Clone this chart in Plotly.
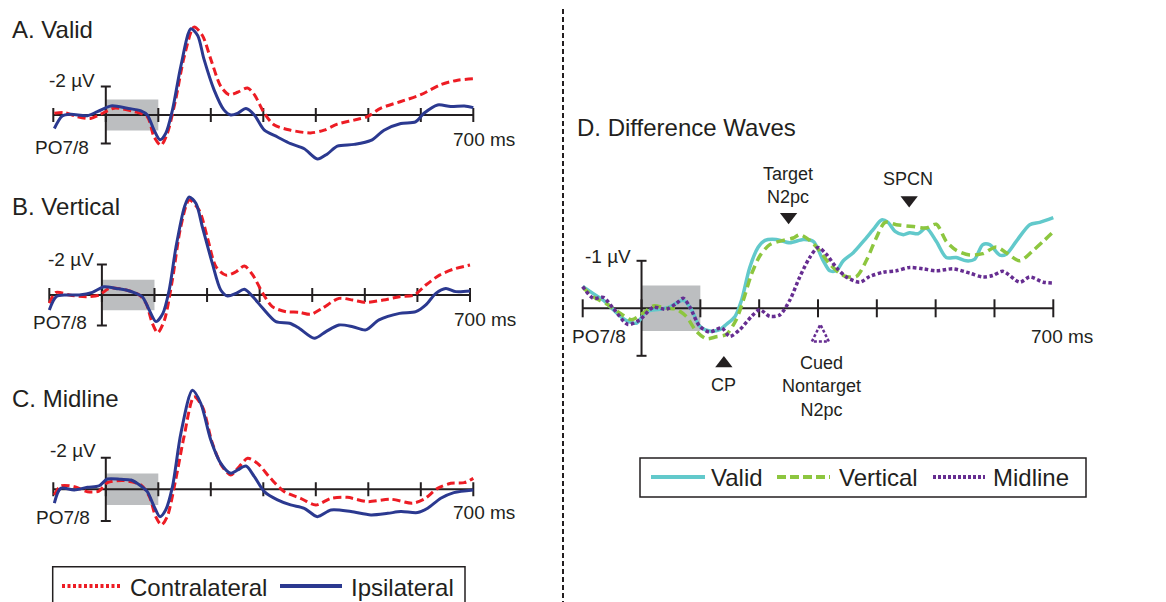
import plotly.graph_objects as go

OFF = 8  # the page body has a default 8px margin; coordinates below are page pixels
W, H = 1166 - OFF, 602 - OFF
FONT = "Liberation Sans, Arial, Helvetica, sans-serif"

# ---------------- data (µV, negative plotted up) ----------------
TICKS_MS = [-100, 0, 100, 200, 300, 400, 500, 600, 700]

A_IPSI_T = [-98, -83, -67, -35, -16, 10, 41, 67, 79, 92, 103, 114, 127, 143, 162, 175, 187, 206, 225, 238,
            251, 267, 283, 302, 327, 352, 378, 403, 422, 441, 473, 505, 530, 562, 590, 606, 632, 657, 683, 700]
A_IPSI = [0.95, 0.07, -0.05, 0.05, -0.24, -0.64, -0.48, -0.29, 0.0, 1.07, 1.74, 1.3, -0.36, -3.45, -6.07, -5.6,
          -3.93, -1.79, -0.36, 0.0, -0.12, -0.45, 0.0, 1.07, 1.55, 2.02, 2.38, 3.1, 2.74, 2.19, 2.07, 1.79, 1.07,
          0.6, 0.48, -0.12, -0.71, -0.6, -0.64, -0.52]
A_CONTRA_T = [-98, -79, -54, -29, -10, 16, 54, 79, 92, 105, 117, 133, 149, 168, 184, 200, 219, 235, 251, 270,
              283, 302, 321, 352, 390, 416, 441, 473, 498, 524, 562, 600, 638, 670, 700]
A_CONTRA = [-0.12, -0.17, 0.12, 0.24, -0.05, -0.48, -0.24, 0.12, 1.55, 2.14, 1.31, -1.07, -4.05, -6.19, -5.6,
            -3.93, -2.02, -1.43, -1.6, -1.9, -1.43, -0.12, 0.71, 1.07, 1.26, 1.07, 0.64, 0.36, 0.12, -0.48,
            -0.95, -1.43, -2.14, -2.45, -2.55]

B_IPSI_T = [-100, -87, -68, -43, -18, 4, 27, 46, 65, 77, 90, 103, 116, 128, 141, 157, 166, 179, 191, 210, 226,
            239, 255, 271, 287, 306, 331, 357, 375, 404, 426, 451, 477, 502, 527, 566, 597, 616, 635, 654, 673, 700]
B_IPSI = [0.98, 0.11, 0.0, 0.0, -0.17, -0.54, -0.43, -0.33, -0.11, 0.11, 0.98, 1.74, 1.2, -0.33, -3.15, -5.76,
          -6.41, -5.98, -4.46, -2.07, -0.33, 0.07, -0.11, -0.37, 0.11, 0.87, 1.74, 1.85, 2.17, 2.83, 2.39, 1.96,
          2.07, 2.28, 1.63, 1.2, 1.09, 0.65, -0.11, -0.43, -0.22, -0.26]
B_CONTRA_T = [-100, -87, -62, -30, -5, 14, 46, 71, 84, 96, 106, 119, 134, 150, 166, 185, 201, 217, 236, 255,
              271, 287, 306, 324, 350, 375, 397, 419, 451, 477, 502, 535, 566, 594, 616, 642, 667, 700]
B_CONTRA = [0.54, -0.17, 0.0, 0.11, 0.0, -0.43, -0.33, 0.0, 0.54, 1.85, 2.46, 1.63, -0.98, -4.46, -6.2, -5.54,
            -3.7, -1.85, -1.3, -1.52, -1.89, -1.3, -0.11, 0.76, 1.09, 1.13, 1.26, 0.87, 0.22, 0.33, 0.48, 0.33,
            0.11, 0.0, -0.65, -1.3, -1.67, -1.96]

C_IPSI_T = [-98, -86, -60, -35, -13, 3, 29, 48, 67, 79, 92, 103, 114, 127, 143, 165, 181, 200, 219, 238, 251,
            267, 283, 302, 327, 352, 378, 403, 429, 467, 505, 537, 562, 594, 613, 638, 663, 700]
C_IPSI = [0.88, -0.06, 0.04, -0.13, -0.21, -0.65, -0.63, -0.59, -0.21, 0.15, 1.09, 1.73, 1.31, -0.17, -3.54,
          -6.27, -5.43, -3.12, -1.64, -1.01, -1.22, -1.47, -0.8, 0.15, 0.67, 0.99, 1.2, 1.73, 1.31, 1.41, 1.62,
          1.52, 1.41, 1.47, 1.2, 0.57, 0.21, 0.04]
C_CONTRA_T = [-98, -86, -60, -35, -13, 3, 35, 67, 83, 95, 106, 117, 133, 149, 168, 184, 203, 222, 238, 254,
              270, 289, 314, 340, 371, 400, 429, 460, 498, 543, 584, 606, 632, 657, 683, 700]
C_CONTRA = [0.36, -0.21, -0.17, 0.15, 0.11, -0.42, -0.55, -0.27, 0.46, 1.73, 2.25, 1.73, -0.59, -3.33, -5.85,
            -5.22, -2.91, -1.43, -0.91, -1.43, -1.96, -1.64, -0.69, 0.15, 0.57, 0.99, 0.57, 0.51, 0.78, 0.63,
            0.88, 0.63, -0.06, -0.38, -0.42, -0.69]

D_VALID_T = [-100, -82, -65, -48, -28, -8, 8, 31, 48, 71, 85, 99, 116, 133, 144, 159, 170, 184, 198, 210, 229,
             252, 275, 292, 309, 320, 331, 343, 360, 377, 394, 408, 419, 431, 445, 456, 470, 484, 501, 518, 535,
             552, 566, 580, 592, 609, 620, 637, 660, 677, 700]
D_VALID = [-0.46, -0.31, -0.17, 0.03, 0.24, 0.31, 0.07, 0.02, -0.03, -0.17, 0.03, 0.38, 0.48, 0.45, 0.34, 0.17,
           -0.17, -0.86, -1.28, -1.43, -1.45, -1.38, -1.45, -1.41, -1.0, -0.79, -0.79, -1.0, -1.17, -1.41, -1.66,
           -1.86, -1.81, -1.62, -1.55, -1.59, -1.57, -1.69, -1.41, -1.07, -1.07, -1.0, -1.03, -1.34, -1.34, -1.12,
           -1.14, -1.41, -1.76, -1.81, -1.91]
D_VERT_T = [-100, -82, -59, -37, -17, 3, 20, 42, 59, 76, 93, 110, 127, 144, 161, 173, 187, 201, 218, 241, 258,
            269, 286, 303, 320, 343, 365, 382, 399, 414, 433, 462, 484, 501, 518, 535, 558, 580, 603, 620, 643,
            665, 683, 700]
D_VERT = [-0.45, -0.24, -0.09, 0.1, 0.24, 0.1, -0.05, 0.0, 0.02, 0.17, 0.48, 0.64, 0.6, 0.55, 0.24, -0.17,
          -0.72, -1.1, -1.34, -1.43, -1.48, -1.55, -1.43, -1.21, -0.93, -0.69, -0.67, -1.0, -1.48, -1.81, -1.76,
          -1.72, -1.69, -1.77, -1.41, -1.22, -1.12, -1.15, -1.29, -1.17, -1.0, -1.21, -1.41, -1.61]
D_MID_T = [-100, -82, -65, -48, -23, -3, 20, 42, 59, 71, 82, 99, 116, 136, 150, 167, 187, 201, 218, 235, 252,
           269, 286, 300, 314, 331, 348, 371, 388, 411, 433, 456, 479, 501, 530, 558, 580, 597, 614, 643, 660,
           683, 700]
D_MID = [-0.46, -0.21, -0.23, 0.0, 0.34, 0.24, -0.02, 0.02, -0.1, -0.21, -0.03, 0.38, 0.5, 0.41, 0.59, 0.45,
         0.17, 0.03, 0.17, 0.14, -0.17, -0.66, -1.07, -1.28, -1.14, -0.86, -0.66, -0.55, -0.67, -0.76, -0.79,
         -0.86, -0.83, -0.79, -0.83, -0.74, -0.66, -0.69, -0.78, -0.55, -0.66, -0.55, -0.53]

# component markers in panel D (ms, µV)
MARK_DOWN_MS = [250, 455]
MARK_DOWN_UV = [-1.93, -2.28]
CP_MS, CP_UV = [140], [1.16]
CUED_MS, CUED_UV = 304, 0.52

# ---------------- styling / geometry ----------------
RED = "#ED1C24"
BLUE = "#2B3990"
CYAN = "#62C9CB"
GREEN = "#8DC63F"
PURPLE = "#662D91"
GRAY = "#BCBEC0"
INK = "#231F20"

# page-pixel geometry: x of -100 ms and 700 ms, baseline y, px per µV, plot top/bottom
GEOM = {
    "A": dict(x0=53.3, x1=473.3, base=115.0, ppu=14.2, top=14, bot=165, scale=2, box=1.1, tick=7, ax=""),
    "B": dict(x0=49.3, x1=470.0, base=295.0, ppu=15.3, top=180, bot=345, scale=2, box=1.0, tick=7, ax="2"),
    "C": dict(x0=53.3, x1=473.3, base=489.3, ppu=15.8, top=370, bot=545, scale=2, box=1.0, tick=7, ax="3"),
    "D": dict(x0=582.7, x1=1053.3, base=308.3, ppu=47.5, top=140, bot=430, scale=1, box=0.48, tick=9, ax="4"),
}
PAD_MS = 15


def px_x(x):
    return (x - OFF) / W


def px_y(y):
    return 1 - (y - OFF) / H


fig = go.Figure()
layout = dict(width=W, height=H, margin=dict(l=0, r=0, t=0, b=0),
              paper_bgcolor="white", plot_bgcolor="rgba(0,0,0,0)", showlegend=False,
              font=dict(family=FONT, color=INK))
shapes = []
annotations = []

for key, g in GEOM.items():
    pxms = (g["x1"] - g["x0"]) / 800.0
    dom_x = [px_x(g["x0"] - PAD_MS * pxms), px_x(g["x1"] + PAD_MS * pxms)]
    dom_y = [px_y(g["bot"]), px_y(g["top"])]
    yr = [(g["bot"] - g["base"]) / g["ppu"], (g["top"] - g["base"]) / g["ppu"]]
    axis_common = dict(visible=False, showgrid=False, zeroline=False, fixedrange=True)
    layout["xaxis" + g["ax"]] = dict(domain=dom_x, range=[-100 - PAD_MS, 700 + PAD_MS],
                                     anchor="y" + g["ax"], **axis_common)
    layout["yaxis" + g["ax"]] = dict(domain=dom_y, range=yr, anchor="x" + g["ax"], **axis_common)
    xr, yref = "x" + g["ax"], "y" + g["ax"]
    # baseline window box
    shapes.append(dict(type="rect", xref=xr, yref=yref, x0=0, x1=100, y0=-g["box"], y1=g["box"],
                       fillcolor=GRAY, line=dict(width=0), layer="below"))
    # time axis
    shapes.append(dict(type="line", xref=xr, yref=yref, x0=TICKS_MS[0], x1=TICKS_MS[-1], y0=0, y1=0,
                       line=dict(color=INK, width=2), layer="below"))
    th = g["tick"] / g["ppu"]
    for t in TICKS_MS:
        shapes.append(dict(type="line", xref=xr, yref=yref, x0=t, x1=t, y0=-th, y1=th,
                           line=dict(color=INK, width=2), layer="below"))
    # voltage scale bar
    cap = 5 / pxms
    shapes.append(dict(type="line", xref=xr, yref=yref, x0=0, x1=0, y0=-g["scale"], y1=g["scale"],
                       line=dict(color=INK, width=2), layer="below"))
    for s in (-g["scale"], g["scale"]):
        shapes.append(dict(type="line", xref=xr, yref=yref, x0=-cap, x1=cap, y0=s, y1=s,
                           line=dict(color=INK, width=2), layer="below"))

# ERP traces A-C
for key, (ct, cv, it, iv) in {"A": (A_CONTRA_T, A_CONTRA, A_IPSI_T, A_IPSI),
                              "B": (B_CONTRA_T, B_CONTRA, B_IPSI_T, B_IPSI),
                              "C": (C_CONTRA_T, C_CONTRA, C_IPSI_T, C_IPSI)}.items():
    ax = GEOM[key]["ax"]
    fig.add_trace(go.Scatter(x=ct, y=cv, mode="lines", xaxis="x" + ax, yaxis="y" + ax, name="Contralateral",
                             line=dict(color=RED, width=3, dash="8px,4px", shape="spline", smoothing=0.8)))
    fig.add_trace(go.Scatter(x=it, y=iv, mode="lines", xaxis="x" + ax, yaxis="y" + ax, name="Ipsilateral",
                             line=dict(color=BLUE, width=3, shape="spline", smoothing=0.8)))

# difference waves D
fig.add_trace(go.Scatter(x=D_VALID_T, y=D_VALID, mode="lines", xaxis="x4", yaxis="y4", name="Valid",
                         line=dict(color=CYAN, width=3.5, shape="spline", smoothing=0.8)))
fig.add_trace(go.Scatter(x=D_VERT_T, y=D_VERT, mode="lines", xaxis="x4", yaxis="y4", name="Vertical",
                         line=dict(color=GREEN, width=3.5, dash="9px,5px", shape="spline", smoothing=0.8)))
fig.add_trace(go.Scatter(x=D_MID_T, y=D_MID, mode="lines", xaxis="x4", yaxis="y4", name="Midline",
                         line=dict(color=PURPLE, width=3.5, dash="3.5px,2.5px", shape="spline", smoothing=0.8)))

# component markers
fig.add_trace(go.Scatter(x=MARK_DOWN_MS, y=MARK_DOWN_UV, mode="markers", xaxis="x4", yaxis="y4",
                         cliponaxis=False, marker=dict(symbol="triangle-down", size=15, color=INK)))
fig.add_trace(go.Scatter(x=CP_MS, y=CP_UV, mode="markers", xaxis="x4", yaxis="y4", cliponaxis=False,
                         marker=dict(symbol="triangle-up", size=15, color=INK)))
gD = GEOM["D"]
pxmsD = (gD["x1"] - gD["x0"]) / 800.0
hw = 8.5 / pxmsD
hh = 8.5 / gD["ppu"]
fig.add_trace(go.Scatter(x=[CUED_MS - hw, CUED_MS, CUED_MS + hw, CUED_MS - hw],
                         y=[CUED_UV + hh, CUED_UV - hh, CUED_UV + hh, CUED_UV + hh],
                         mode="lines", xaxis="x4", yaxis="y4", cliponaxis=False,
                         line=dict(color=PURPLE, width=2.5, dash="3px,2px")))


def label(text, x, y, size, xanchor="left", align="left"):
    annotations.append(dict(text=text, x=px_x(x), y=px_y(y), xref="paper", yref="paper",
                            xanchor=xanchor, yanchor="middle", showarrow=False, align=align,
                            font=dict(size=size, family=FONT, color=INK)))


# titles
label("A. Valid", 10, 30, 24)
label("B. Vertical", 10, 207, 24)
label("C. Midline", 10, 399, 24)
label("D. Difference Waves", 575, 128, 24)

# axis labels
for (uvx, uvy, pox, poy, msx, msy, txt) in [(97, 81, 61.5, 147, 484, 139, "-2 µV"),
                                            (96, 259, 60, 322, 485, 319, "-2 µV"),
                                            (98, 450, 63.5, 517, 484, 512, "-2 µV"),
                                            (633, 256, 599, 336, 1062, 336, "-1 µV")]:
    label(txt, uvx, uvy, 19, xanchor="right")
    label("PO7/8", pox, poy, 19, xanchor="center")
    label("700 ms", msx, msy, 19, xanchor="center")

# component labels
label("Target<br>N2pc", 788, 185, 18, xanchor="center", align="center")
label("SPCN", 908, 179, 18, xanchor="center", align="center")
label("CP", 723, 385, 18, xanchor="center", align="center")
label("Cued<br>Nontarget<br>N2pc", 821, 386, 18, xanchor="center", align="center")

# divider
shapes.append(dict(type="line", xref="paper", yref="paper", x0=px_x(563), x1=px_x(563), y0=px_y(9),
                   y1=px_y(602), line=dict(color=INK, width=2, dash="5px,3px")))

# legend: Contralateral / Ipsilateral
shapes.append(dict(type="rect", xref="paper", yref="paper", x0=px_x(52.7), x1=px_x(465), y0=px_y(566.7),
                   y1=px_y(615), line=dict(color=INK, width=1.5)))
shapes.append(dict(type="line", xref="paper", yref="paper", x0=px_x(62), x1=px_x(120), y0=px_y(586),
                   y1=px_y(586), line=dict(color=RED, width=4, dash="3px,2.5px")))
shapes.append(dict(type="line", xref="paper", yref="paper", x0=px_x(280), x1=px_x(342), y0=px_y(586),
                   y1=px_y(586), line=dict(color=BLUE, width=4)))
label("Contralateral", 128, 587, 24)
label("Ipsilateral", 349, 587, 24)

# legend: Valid / Vertical / Midline
shapes.append(dict(type="rect", xref="paper", yref="paper", x0=px_x(640), x1=px_x(1086), y0=px_y(458),
                   y1=px_y(497), line=dict(color=INK, width=1.5)))
shapes.append(dict(type="line", xref="paper", yref="paper", x0=px_x(651), x1=px_x(705), y0=px_y(477),
                   y1=px_y(477), line=dict(color=CYAN, width=4)))
shapes.append(dict(type="line", xref="paper", yref="paper", x0=px_x(777), x1=px_x(830), y0=px_y(477),
                   y1=px_y(477), line=dict(color=GREEN, width=4, dash="9px,4px")))
shapes.append(dict(type="line", xref="paper", yref="paper", x0=px_x(933), x1=px_x(985), y0=px_y(477),
                   y1=px_y(477), line=dict(color=PURPLE, width=4, dash="3px,2px")))
label("Valid", 709, 478, 24)
label("Vertical", 837, 478, 24)
label("Midline", 991, 478, 24)

layout["shapes"] = shapes
layout["annotations"] = annotations
fig.update_layout(**layout)
fig.write_html("out.html")
